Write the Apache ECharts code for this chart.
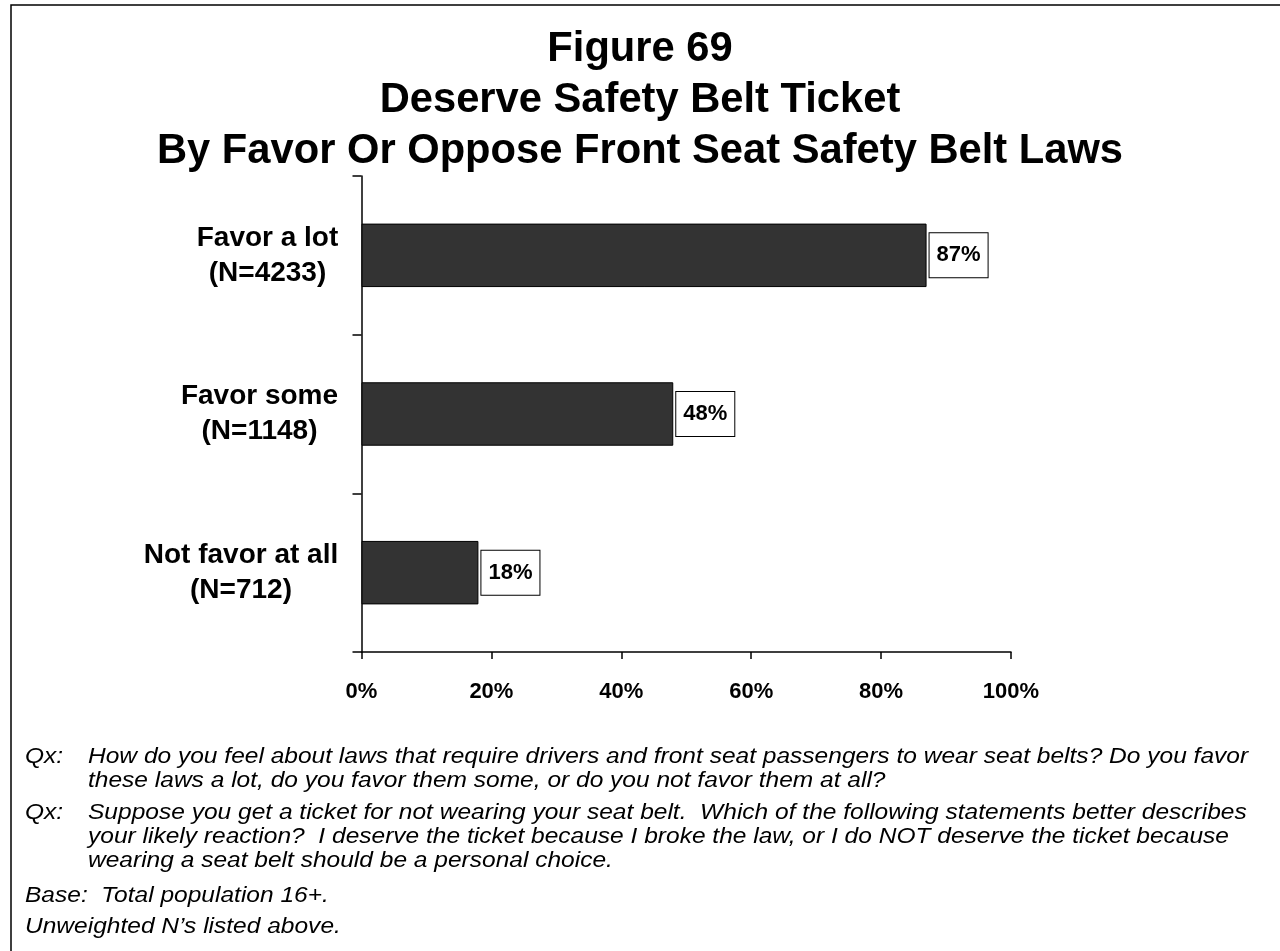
<!DOCTYPE html>
<html>
<head>
<meta charset="utf-8">
<script src="https://cdn.jsdelivr.net/npm/echarts@6/dist/echarts.min.js"></script>
<style>
html,body{margin:0;padding:0;background:#fff;}
#chart{width:1280px;height:951px;}
</style>
</head>
<body>
<div id="chart"></div>
<script>
// ---- data ----
const titleLines = ['Figure 69', 'Deserve Safety Belt Ticket', 'By Favor Or Oppose Front Seat Safety Belt Laws'];
const categories = ['Favor a lot', 'Favor some', 'Not favor at all'];
const sampleSizes = ['(N=4233)', '(N=1148)', '(N=712)'];
const values = [87, 48, 18];
const xMin = 0, xMax = 100, xStep = 20;
const notePrefixes = ['Qx:', 'Qx:'];
const noteBodies = [
  'How do you feel about laws that require drivers and front seat passengers to wear seat belts? Do you favor\nthese laws a lot, do you favor them some, or do you not favor them at all?',
  'Suppose you get a ticket for not wearing your seat belt.  Which of the following statements better describes\nyour likely reaction?  I deserve the ticket because I broke the law, or I do NOT deserve the ticket because\nwearing a seat belt should be a personal choice.'
];
const baseNotes = ['Base:  Total population 16+.', 'Unweighted N\u2019s listed above.'];

// ---- styling ----
const FONT = 'Arial, "Liberation Sans", sans-serif';
const yLabelSize = 28;
const cv = document.createElement('canvas').getContext('2d');
cv.font = 'bold ' + yLabelSize + 'px ' + FONT;
const rich = {};
categories.forEach((c, i) => {
  const w = Math.ceil(Math.max(cv.measureText(c).width, cv.measureText(sampleSizes[i]).width)) + 2;
  rich['c' + i] = {width: w, align: 'center', fontSize: yLabelSize, fontWeight: 'bold', fontFamily: FONT, color: '#000', lineHeight: 35};
});

const NOTE_LH = 24;
const noteStyle = {font: 'italic 22.5px ' + FONT, fill: '#000', lineHeight: NOTE_LH, verticalAlign: 'top', align: 'left'};
const NOTE_SX = 1.09;
const graphics = [
  {type: 'rect', shape: {x: 11, y: 5, width: 1400, height: 1100}, style: {fill: 'none', stroke: '#000', lineWidth: 1.5}, silent: true}
];
const noteTops = [745, 801];
notePrefixes.forEach((p, i) => {
  graphics.push({type: 'text', x: 25, y: noteTops[i], scaleX: NOTE_SX, style: Object.assign({text: p}, noteStyle)});
  graphics.push({type: 'text', x: 88, y: noteTops[i], scaleX: NOTE_SX, style: Object.assign({text: noteBodies[i]}, noteStyle)});
});
const baseTops = [884, 915];
baseNotes.forEach((t, i) => {
  graphics.push({type: 'text', x: 25, y: baseTops[i], scaleX: NOTE_SX, style: Object.assign({text: t}, noteStyle)});
});

const chart = echarts.init(document.getElementById('chart'), null, {renderer: 'canvas'});
chart.setOption({
  backgroundColor: '#fff',
  animation: false,
  title: {
    text: titleLines.join('\n'),
    left: 'center',
    top: 19,
    textStyle: {fontSize: 41.7, fontWeight: 'bold', fontFamily: FONT, color: '#000', lineHeight: 51}
  },
  grid: {left: 361.5, right: 269, top: 176, bottom: 299, containLabel: false},
  xAxis: {
    type: 'value', min: xMin, max: xMax, interval: xStep,
    axisLine: {show: true, lineStyle: {color: '#000', width: 1.5}},
    axisTick: {show: true, length: 7, lineStyle: {color: '#000', width: 1.5}},
    splitLine: {show: false},
    axisLabel: {formatter: '{value}%', margin: 29, fontSize: 22, fontWeight: 'bold', fontFamily: FONT, color: '#000'}
  },
  yAxis: {
    type: 'category', data: categories, inverse: true,
    axisLine: {show: true, lineStyle: {color: '#000', width: 1.5}},
    axisTick: {show: true, length: 9, lineStyle: {color: '#000', width: 1.5}},
    axisLabel: {
      margin: 22,
      formatter: (v, i) => '{c' + i + '|' + v + '}\n{c' + i + '|' + sampleSizes[i] + '}',
      rich: rich
    }
  },
  series: [{
    type: 'bar',
    data: values,
    barCategoryGap: '60%',
    itemStyle: {color: '#333333', borderColor: '#000', borderWidth: 1},
    label: {
      show: true, position: 'right', distance: 3,
      formatter: '{c}%',
      fontSize: 22, fontWeight: 'bold', fontFamily: FONT, color: '#000',
      backgroundColor: '#fff', borderColor: '#000', borderWidth: 1,
      padding: [11, 7, 11, 7], lineHeight: 22
    }
  }],
  graphic: graphics
});
</script>
</body>
</html>
